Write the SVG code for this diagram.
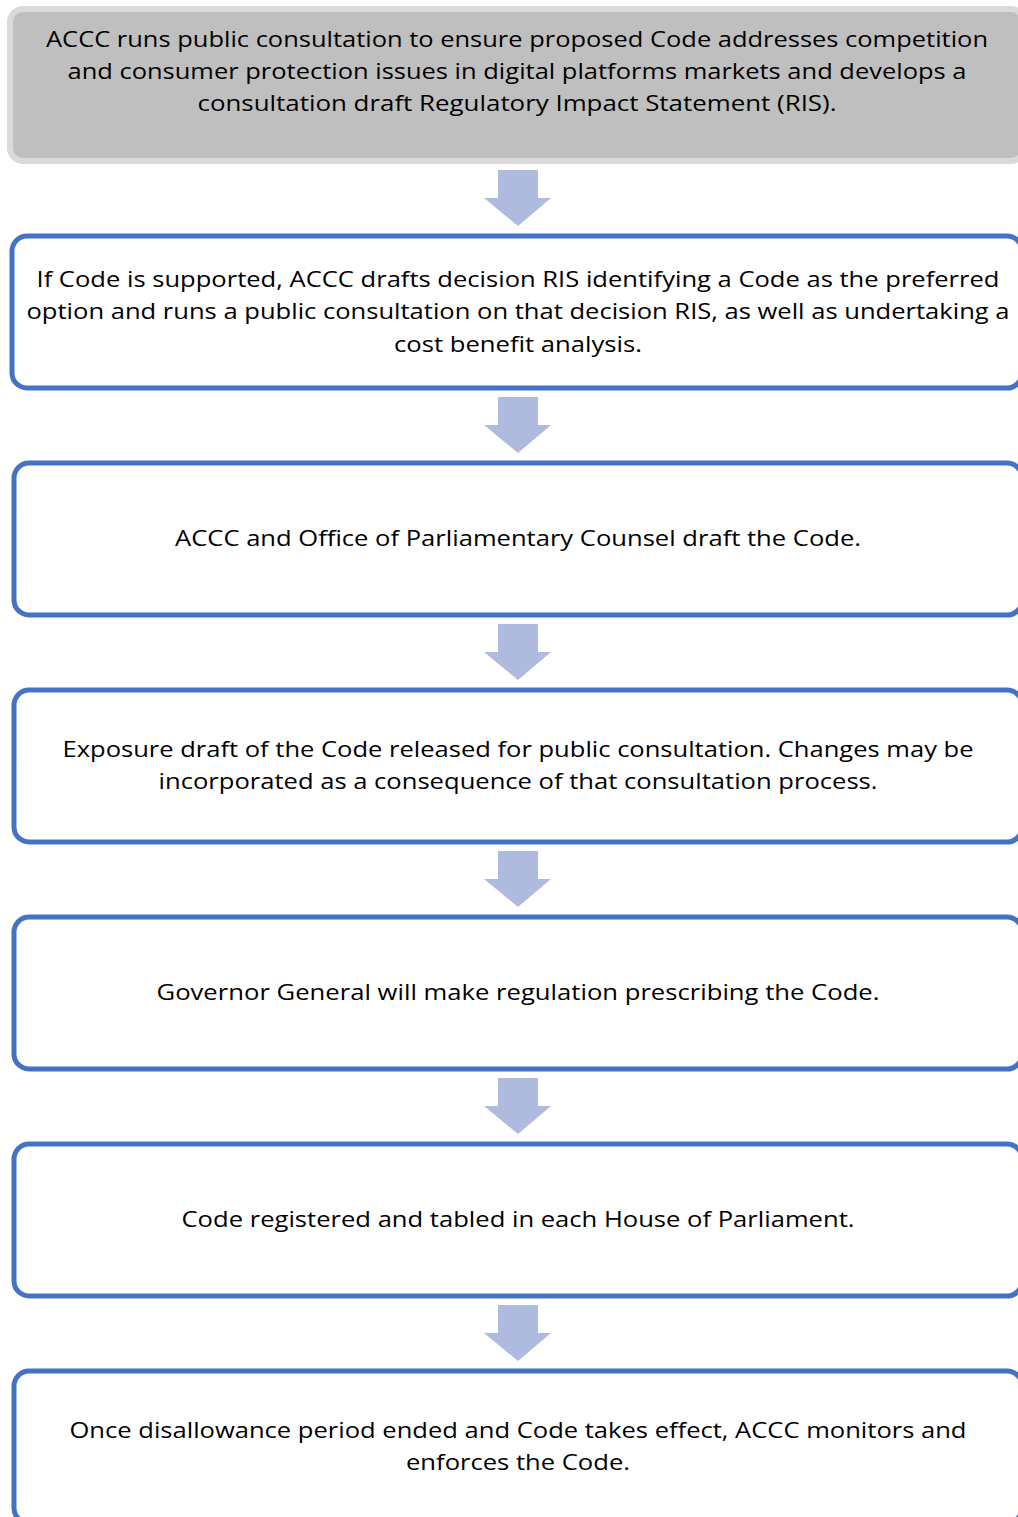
<svg xmlns="http://www.w3.org/2000/svg" width="1018" height="1517" viewBox="0 0 1018 1517">
<style>
.box{fill:#ffffff;stroke:#4472c4;stroke-width:5}
.grey{fill:#bfbfbf;stroke:#dadada;stroke-width:6}
.t{font-family:"Open Sans","Liberation Sans",sans-serif;font-size:22px;fill:#000;text-anchor:middle}
.arr{fill:#aebbdf}
</style>
<defs>
<path id="arrow" d="M498,0 H538 V28 H551 L518,56 L484,28 H498 Z"/>
</defs>
<rect width="1018" height="1517" fill="#ffffff"/>
<g id="connectors">
<use href="#arrow" class="arr" y="170"/>
<use href="#arrow" class="arr" y="397"/>
<use href="#arrow" class="arr" y="624"/>
<use href="#arrow" class="arr" y="851"/>
<use href="#arrow" class="arr" y="1078"/>
<use href="#arrow" class="arr" y="1305"/>
</g>
<g id="node1">
<rect class="grey" x="10" y="9" width="1014" height="152" rx="13"/>
<text class="t" x="517" y="47" textLength="942" lengthAdjust="spacingAndGlyphs">ACCC runs public consultation to ensure proposed Code addresses competition</text>
<text class="t" x="517" y="79" textLength="899" lengthAdjust="spacingAndGlyphs">and consumer protection issues in digital platforms markets and develops a</text>
<text class="t" x="517" y="111" textLength="639" lengthAdjust="spacingAndGlyphs">consultation draft Regulatory Impact Statement (RIS).</text>
</g>
<g id="node2">
<rect class="box" x="12" y="236" width="1010" height="152" rx="15"/>
<text class="t" x="518" y="287" textLength="963" lengthAdjust="spacingAndGlyphs">If Code is supported, ACCC drafts decision RIS identifying a Code as the preferred</text>
<text class="t" x="518" y="319" textLength="983" lengthAdjust="spacingAndGlyphs">option and runs a public consultation on that decision RIS, as well as undertaking a</text>
<text class="t" x="518" y="352" textLength="248" lengthAdjust="spacingAndGlyphs">cost benefit analysis.</text>
</g>
<g id="node3">
<rect class="box" x="14" y="463" width="1008" height="152" rx="15"/>
<text class="t" x="518" y="546" textLength="686" lengthAdjust="spacingAndGlyphs">ACCC and Office of Parliamentary Counsel draft the Code.</text>
</g>
<g id="node4">
<rect class="box" x="14" y="690" width="1008" height="152" rx="15"/>
<text class="t" x="518" y="757" textLength="911" lengthAdjust="spacingAndGlyphs">Exposure draft of the Code released for public consultation. Changes may be</text>
<text class="t" x="518" y="789" textLength="719" lengthAdjust="spacingAndGlyphs">incorporated as a consequence of that consultation process.</text>
</g>
<g id="node5">
<rect class="box" x="14" y="917" width="1008" height="152" rx="15"/>
<text class="t" x="518" y="1000" textLength="723" lengthAdjust="spacingAndGlyphs">Governor General will make regulation prescribing the Code.</text>
</g>
<g id="node6">
<rect class="box" x="14" y="1144" width="1008" height="152" rx="15"/>
<text class="t" x="518" y="1227" textLength="673" lengthAdjust="spacingAndGlyphs">Code registered and tabled in each House of Parliament.</text>
</g>
<g id="node7">
<rect class="box" x="14" y="1371" width="1008" height="152" rx="15"/>
<text class="t" x="518" y="1438" textLength="897" lengthAdjust="spacingAndGlyphs">Once disallowance period ended and Code takes effect, ACCC monitors and</text>
<text class="t" x="518" y="1470" textLength="224" lengthAdjust="spacingAndGlyphs">enforces the Code.</text>
</g>
</svg>
